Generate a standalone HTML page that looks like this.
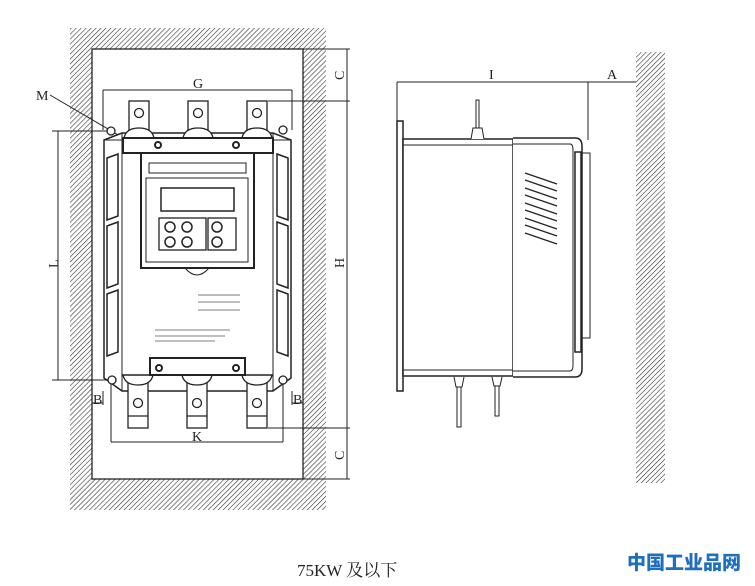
<!DOCTYPE html>
<html><head><meta charset="utf-8"><style>
html,body{margin:0;padding:0;background:#fff;width:755px;height:586px;overflow:hidden}
svg{display:block}
.t{font-family:"Liberation Serif","Noto Serif CJK SC",serif;fill:#222}
</style></head><body>
<svg width="755" height="586" viewBox="0 0 755 586" xmlns="http://www.w3.org/2000/svg">
<defs>
<pattern id="h" patternUnits="userSpaceOnUse" width="3.5" height="3.5" patternTransform="rotate(45)">
<rect width="3.5" height="3.5" fill="#fff"/><line x1="0" y1="0" x2="0" y2="3.5" stroke="#333" stroke-width="1.2"/>
</pattern>
</defs>
<g stroke="#222" fill="none" stroke-width="1">
<path d="M70 28 H326 V510 H70 Z M92 49 V479 H303 V49 Z" fill="url(#h)" fill-rule="evenodd" stroke="none"/>
<rect x="92" y="49" width="211" height="430" stroke-width="1.3"/>
<line x1="347" y1="49" x2="347" y2="479"/>
<line x1="303" y1="49" x2="350" y2="49"/>
<line x1="268" y1="101" x2="350" y2="101"/>
<line x1="268" y1="428" x2="350" y2="428"/>
<line x1="303" y1="479" x2="350" y2="479"/>
<line x1="103" y1="90" x2="292" y2="90"/>
<line x1="103" y1="90" x2="103" y2="130"/><line x1="292" y1="90" x2="292" y2="130"/>
<line x1="58" y1="131" x2="58" y2="380"/>
<line x1="52" y1="131" x2="111" y2="131"/><line x1="52" y1="380" x2="111" y2="380"/>
<line x1="50" y1="95" x2="120" y2="136"/>
<line x1="111" y1="442" x2="283" y2="442"/>
<line x1="111" y1="380" x2="111" y2="442"/><line x1="283" y1="380" x2="283" y2="442"/>
<line x1="92" y1="403" x2="103" y2="403"/><line x1="292" y1="403" x2="303" y2="403"/>
<line x1="103" y1="391" x2="103" y2="405"/><line x1="292" y1="391" x2="292" y2="405"/>
<path d="M104 140 L122 133 H273 L291 140 V378 L273 391 H122 L104 378 Z" fill="#fff" stroke-width="1.5"/>
<line x1="122" y1="133" x2="122" y2="391"/><line x1="273" y1="133" x2="273" y2="391"/>
<line x1="104" y1="140" x2="122" y2="140"/><line x1="273" y1="140" x2="291" y2="140"/>
<g stroke-width="1.5">
<path d="M107 158 L118 154 V216 L107 220 Z"/><path d="M107 226 L118 222 V284 L107 288 Z"/><path d="M107 294 L118 290 V352 L107 356 Z"/>
<path d="M288 158 L277 154 V216 L288 220 Z"/><path d="M288 226 L277 222 V284 L288 288 Z"/><path d="M288 294 L277 290 V352 L288 356 Z"/>
</g>
<g fill="#fff" stroke-width="1.3">
<rect x="129" y="101" width="20" height="32"/><rect x="188" y="101" width="20" height="32"/><rect x="247" y="101" width="20" height="32"/>
<circle cx="139" cy="113" r="4.5"/><circle cx="198" cy="113" r="4.5"/><circle cx="257" cy="113" r="4.5"/>
<path d="M124 138 Q126 128 139 128 Q152 128 154 138"/><path d="M183 138 Q185 128 198 128 Q211 128 213 138"/><path d="M242 138 Q244 128 257 128 Q270 128 272 138"/>
<rect x="123" y="138" width="150" height="15" stroke-width="2"/>
<circle cx="158" cy="145" r="3" stroke-width="2"/><circle cx="236" cy="145" r="3" stroke-width="2"/>
<circle cx="111" cy="131" r="4"/><circle cx="283" cy="130" r="4"/>
</g>
<rect x="141" y="153" width="113" height="115" fill="#fff" stroke-width="2"/>
<rect x="149" y="163" width="97" height="10"/>
<rect x="146" y="178" width="102" height="84"/>
<rect x="161" y="188" width="73" height="23" stroke-width="1.5"/>
<rect x="159" y="218" width="47" height="32" stroke-width="1.3"/>
<rect x="208" y="218" width="28" height="32" stroke-width="1.3"/>
<circle cx="170" cy="227" r="5" stroke-width="1.5"/><circle cx="187" cy="227" r="5" stroke-width="1.5"/>
<circle cx="170" cy="242" r="5" stroke-width="1.5"/><circle cx="187" cy="242" r="5" stroke-width="1.5"/>
<circle cx="217" cy="227" r="5" stroke-width="1.5"/><circle cx="217" cy="242" r="5" stroke-width="1.5"/>
<path d="M185 268 Q197 282 209 268"/>
<g stroke-width="0.8" stroke="#555">
<line x1="198" y1="295" x2="212" y2="295"/><line x1="212" y1="295" x2="226" y2="295"/><line x1="226" y1="295" x2="240" y2="295"/>
<line x1="198" y1="302" x2="240" y2="302"/><line x1="198" y1="310" x2="240" y2="310"/>
<line x1="155" y1="330" x2="230" y2="330"/><line x1="155" y1="336" x2="225" y2="336"/><line x1="155" y1="341" x2="215" y2="341"/>
</g>
<g fill="#fff" stroke-width="1.3">
<rect x="128" y="378" width="20" height="50"/><rect x="187" y="378" width="20" height="50"/><rect x="247" y="378" width="20" height="50"/>
<line x1="128" y1="416" x2="148" y2="416"/><line x1="187" y1="416" x2="207" y2="416"/><line x1="247" y1="416" x2="267" y2="416"/>
<circle cx="138" cy="403" r="4.5"/><circle cx="197" cy="403" r="4.5"/><circle cx="257" cy="403" r="4.5"/>
<path d="M123 375 Q125 385 138 385 Q151 385 153 375"/><path d="M182 375 Q184 385 197 385 Q210 385 212 375"/><path d="M242 375 Q244 385 257 385 Q270 385 272 375"/>
<rect x="150" y="358" width="95" height="17" stroke-width="2"/>
<circle cx="159" cy="368" r="3" stroke-width="2"/><circle cx="236" cy="368" r="3" stroke-width="2"/>
<line x1="122" y1="375" x2="273" y2="375" stroke-width="1.5"/>
<circle cx="112" cy="380" r="4"/><circle cx="283" cy="380" r="4"/>
</g>
<rect x="636" y="52" width="29" height="431" fill="url(#h)" stroke="none"/>
<line x1="397" y1="82" x2="636" y2="82"/>
<line x1="397" y1="82" x2="397" y2="121"/><line x1="588" y1="82" x2="588" y2="140"/>
<rect x="397" y="121" width="6" height="270" fill="#fff" stroke-width="1.5"/>
<rect x="403" y="139" width="110" height="237" fill="#fff" stroke-width="1.5"/>
<line x1="403" y1="145" x2="513" y2="145"/><line x1="403" y1="370" x2="513" y2="370"/>
<path d="M513 138 H575 Q582 138 582 146 V369 Q582 377 575 377 H513" fill="#fff" stroke-width="1.5"/>
<path d="M513 144 H570 Q573 144 573 150 V365 Q573 371 570 371 H513"/>
<rect x="575" y="152" width="6" height="200" stroke-width="1.5"/>
<rect x="582" y="153" width="8" height="185"/>
<g stroke-width="1.3">
<line x1="525" y1="173" x2="557" y2="184"/><line x1="525" y1="180" x2="557" y2="191"/><line x1="525" y1="188" x2="557" y2="199"/><line x1="525" y1="195" x2="557" y2="206"/><line x1="525" y1="203" x2="557" y2="214"/><line x1="525" y1="210" x2="557" y2="221"/><line x1="525" y1="218" x2="557" y2="229"/><line x1="525" y1="225" x2="557" y2="236"/><line x1="525" y1="233" x2="557" y2="244"/>
</g>
<rect x="476" y="100" width="3" height="28"/><path d="M471 139 L473 128 H482 L484 139" fill="#fff"/>
<path d="M454 377 L456 387 H462 L464 377"/><rect x="457" y="387" width="4" height="40"/>
<path d="M492 377 L494 386 H500 L502 377"/><rect x="495" y="386" width="4" height="30"/>
</g>
<g class="t" font-size="14">
<text x="193" y="88">G</text>
<text x="36" y="100">M</text>
<text x="192" y="441">K</text>
<text x="93" y="404">B</text>
<text x="293" y="404">B</text>
<text x="489" y="79">I</text>
<text x="607" y="79">A</text>
<text transform="translate(344,80) rotate(-90)">C</text>
<text transform="translate(344,268) rotate(-90)">H</text>
<text transform="translate(344,460) rotate(-90)">C</text>
<text transform="translate(58,268) rotate(-90)">L</text>
</g>
<text class="t" x="297" y="576" font-size="17">75KW 及以下</text>
<text x="627" y="569" font-family="'Noto Sans CJK SC',sans-serif" font-weight="900" font-size="19" fill="#1f6fbf">中国工业品网</text>
</svg>
</body></html>
